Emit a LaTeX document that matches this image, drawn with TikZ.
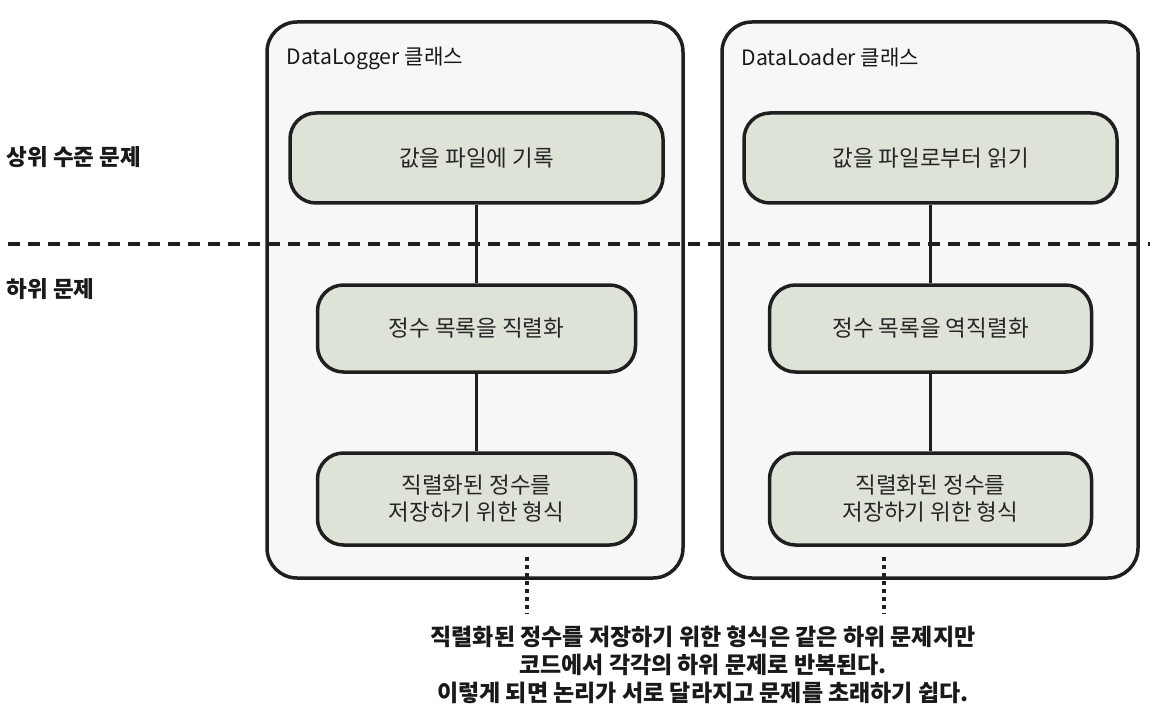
\documentclass[tikz,border=0pt]{standalone}
\usepackage{fontspec}
\setmainfont{Noto Sans CJK KR}
\begin{document}
\begin{tikzpicture}[x=1pt,y=-1pt,
  outerbox/.style={draw=black!88,line width=3.5pt,rounded corners=30pt,fill=black!3,minimum width=416pt,minimum height=556pt},
  taskbox/.style={draw=black!88,line width=3.5pt,rounded corners=26pt,fill={rgb,255:red,222;green,227;blue,216},align=center,font=\fontsize{22.5}{27}\selectfont,text=black!85},
  title/.style={anchor=west,font=\fontsize{21.2}{24}\selectfont,text=black!90},
  side/.style={anchor=west,font=\bfseries\fontsize{22.5}{24}\selectfont,text=black!90},
  link/.style={draw=black!88,line width=2.5pt},
  dots/.style={draw=black!88,line width=4pt,dash pattern=on 4pt off 4pt},
  divider/.style={draw=black!88,line width=4pt,dash pattern=on 12pt off 8pt}]
\useasboundingbox (0,0) rectangle (1156,722);
\node[outerbox] (lo) at (475,300) {};
\node[outerbox] (ro) at (930,300) {};
\node[title] (lt) at (283,58) {DataLogger 클래스};
\node[title] (rt) at (738,58) {DataLoader 클래스};
\node[taskbox,minimum width=373pt,minimum height=90pt] (l1) at (476.5,158) {값을 파일에 기록};
\node[taskbox,minimum width=318pt,minimum height=87pt] (l2) at (476.5,328.5) {정수 목록을 직렬화};
\node[taskbox,minimum width=318pt,minimum height=92pt] (l3) at (476.5,499) {직렬화된 정수를\\저장하기 위한 형식};
\node[taskbox,minimum width=373pt,minimum height=90pt] (r1) at (930.5,158) {값을 파일로부터 읽기};
\node[taskbox,minimum width=322pt,minimum height=87pt] (r2) at (930.5,328.5) {정수 목록을 역직렬화};
\node[taskbox,minimum width=322pt,minimum height=92pt] (r3) at (930.5,499) {직렬화된 정수를\\저장하기 위한 형식};
\draw[link] (l1) -- (l2);
\draw[link] (l2) -- (l3);
\draw[link] (r1) -- (r2);
\draw[link] (r2) -- (r3);
\coordinate (dl1) at (8,244);
\coordinate (dl2) at (1150,244);
\draw[divider] (dl1) -- (dl2);
\node[side] (s1) at (3,157) {상위 수준 문제};
\node[side] (s2) at (3,289) {하위 문제};
\coordinate (ld1) at (527,557);
\coordinate (ld2) at (527,614);
\coordinate (rd1) at (884,557);
\coordinate (rd2) at (884,614);
\draw[dots] (ld1) -- (ld2);
\draw[dots] (rd1) -- (rd2);
\node[align=center,font=\bfseries\fontsize{23}{28}\selectfont,text=black!90] (note) at (703,665) {직렬화된 정수를 저장하기 위한 형식은 같은 하위 문제지만\\코드에서 각각의 하위 문제로 반복된다.\\이렇게 되면 논리가 서로 달라지고 문제를 초래하기 쉽다.};
\end{tikzpicture}
\end{document}
